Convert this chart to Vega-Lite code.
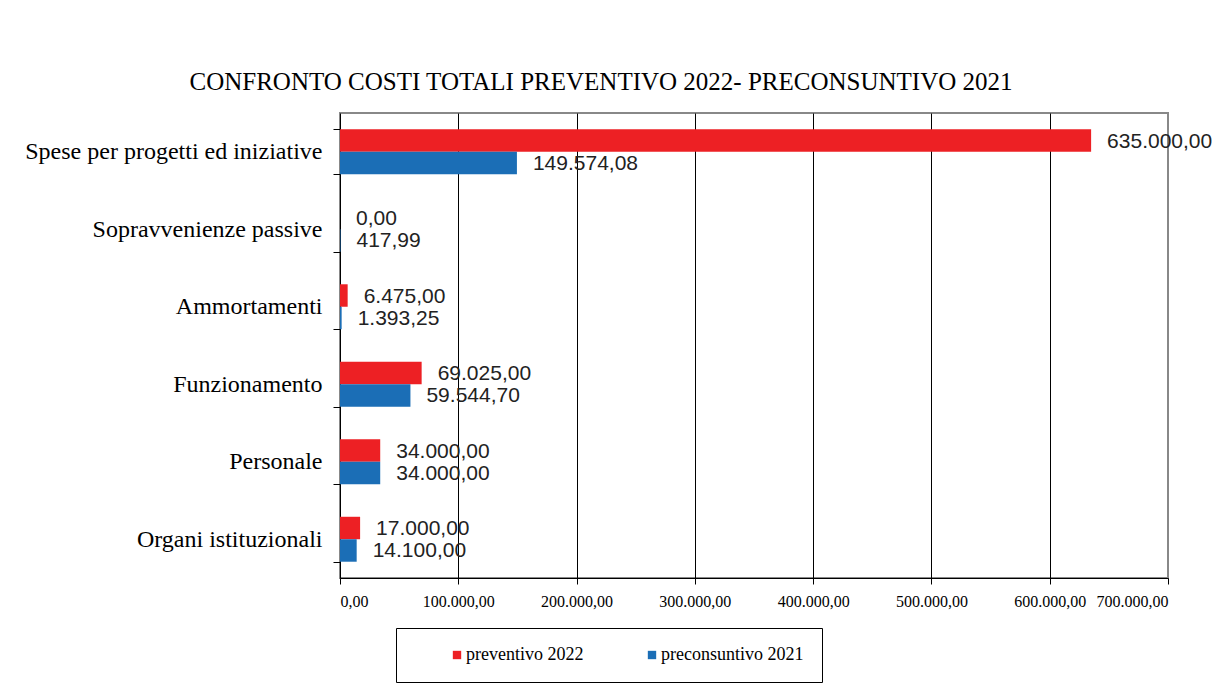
{
  "$schema": "https://vega.github.io/schema/vega-lite/v6.json",
  "autosize": {"type": "none"},
  "width": 828,
  "height": 465,
  "padding": {"left": 340, "top": 113, "right": 52, "bottom": 108},
  "background": "white",
  "title": {
    "text": "CONFRONTO COSTI TOTALI PREVENTIVO 2022- PRECONSUNTIVO 2021",
    "anchor": "middle",
    "frame": "group",
    "dx": -153,
    "dy": 36,
    "offset": 22,
    "baseline": "alphabetic",
    "font": "Liberation Serif",
    "fontSize": 25,
    "fontWeight": "normal",
    "color": "#000000"
  },
  "data": {
    "values": [
      {"voce": "Spese per progetti ed iniziative", "serie": "preventivo 2022", "valore": 635000.00},
      {"voce": "Spese per progetti ed iniziative", "serie": "preconsuntivo 2021", "valore": 149574.08},
      {"voce": "Sopravvenienze passive", "serie": "preventivo 2022", "valore": 0.00},
      {"voce": "Sopravvenienze passive", "serie": "preconsuntivo 2021", "valore": 417.99},
      {"voce": "Ammortamenti", "serie": "preventivo 2022", "valore": 6475.00},
      {"voce": "Ammortamenti", "serie": "preconsuntivo 2021", "valore": 1393.25},
      {"voce": "Funzionamento", "serie": "preventivo 2022", "valore": 69025.00},
      {"voce": "Funzionamento", "serie": "preconsuntivo 2021", "valore": 59544.70},
      {"voce": "Personale", "serie": "preventivo 2022", "valore": 34000.00},
      {"voce": "Personale", "serie": "preconsuntivo 2021", "valore": 34000.00},
      {"voce": "Organi istituzionali", "serie": "preventivo 2022", "valore": 17000.00},
      {"voce": "Organi istituzionali", "serie": "preconsuntivo 2021", "valore": 14100.00}
    ]
  },
  "encoding": {
    "y": {
      "field": "voce",
      "type": "nominal",
      "sort": ["Spese per progetti ed iniziative", "Sopravvenienze passive", "Ammortamenti", "Funzionamento", "Personale", "Organi istituzionali"],
      "scale": {"paddingInner": 0.42, "paddingOuter": 0.21},
      "axis": {
        "title": null,
        "tickBand": "extent",
        "tickSize": 7,
        "tickColor": "#000000",
        "domainColor": "#000000",
        "labelFont": "Liberation Serif",
        "labelFontSize": 24,
        "labelColor": "#000000",
        "labelPadding": 11,
        "labelLimit": 400,
        "grid": false
      }
    },
    "yOffset": {
      "field": "serie",
      "type": "nominal",
      "sort": ["preventivo 2022", "preconsuntivo 2021"],
      "scale": {"paddingInner": 0, "paddingOuter": 0}
    },
    "x": {
      "field": "valore",
      "type": "quantitative",
      "scale": {"domain": [0, 700000], "nice": false},
      "axis": {
        "title": null,
        "values": [0, 100000, 200000, 300000, 400000, 500000, 600000, 700000],
        "format": ",.2f",
        "grid": true,
        "gridColor": {"condition": {"test": "datum.value >= 700000 || datum.value <= 0", "value": "#888888"}, "value": "#000000"},
        "gridOpacity": 1,
        "gridWidth": 1,
        "tickSize": 6,
        "tickColor": "#000000",
        "domainColor": "#000000",
        "labelFont": "Liberation Serif",
        "labelFontSize": 16,
        "labelColor": "#000000",
        "labelPadding": 9
      }
    }
  },
  "layer": [
    {
      "mark": {"type": "bar", "cornerRadius": 0},
      "encoding": {
        "color": {
          "field": "serie",
          "type": "nominal",
          "sort": ["preventivo 2022", "preconsuntivo 2021"],
          "scale": {"domain": ["preventivo 2022", "preconsuntivo 2021"], "range": ["#ED2024", "#1B6EB6"]},
          "legend": {
            "title": null,
            "orient": "none",
            "legendX": 56,
            "legendY": 515,
            "direction": "horizontal",
            "columns": 2,
            "padding": 18,
            "columnPadding": 25,
            "strokeColor": "#000000",
            "fillColor": "#ffffff",
            "symbolType": "square",
            "symbolSize": 70,
            "symbolStrokeWidth": 0,
            "symbolOffset": 34,
            "labelFont": "Liberation Serif",
            "labelFontSize": 18,
            "labelColor": "#000000",
            "labelOffset": 0
          }
        }
      }
    },
    {
      "mark": {"type": "text", "align": "left", "baseline": "middle", "dx": 16, "dy": 1, "font": "Liberation Sans", "fontSize": 21, "color": "#222222"},
      "encoding": {
        "text": {"field": "valore", "type": "quantitative", "format": ",.2f"}
      }
    }
  ],
  "config": {
    "locale": {"number": {"decimal": ",", "thousands": ".", "grouping": [3], "currency": ["", " €"]}},
    "view": {"stroke": "#888888", "strokeWidth": 2}
  }
}
